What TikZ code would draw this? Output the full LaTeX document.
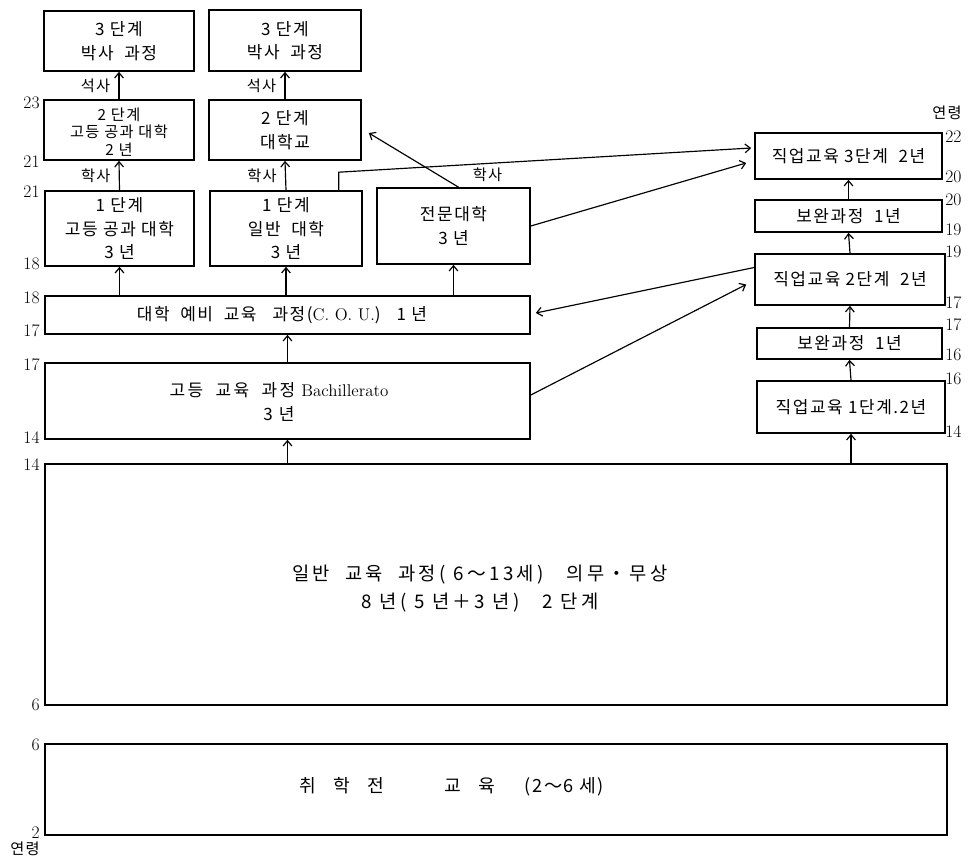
\documentclass[tikz,border=0pt]{standalone}
\usepackage{fontspec}
\newfontfamily\kr[LetterSpace=9]{Noto Sans CJK KR}
\usetikzlibrary{arrows.meta, positioning, calc, fit}

\tikzset{
  boxtext/.style={inner sep=0pt, align=center, font=\kr\fontsize{14.5}{20}\selectfont},
  box/.style={draw, line width=1.4pt, inner sep=0pt, label={[boxtext]center:{#1}}},
  box/.default={},
  up/.style={line width=1pt, -{Straight Barb[length=4.5pt,width=7.5pt]}},
  age/.style={font=\fontsize{15}{17}\selectfont, inner sep=1pt},
  deg/.style={font=\kr\fontsize{13}{15}\selectfont, inner sep=2pt},
}

\begin{document}
\begin{tikzpicture}[x=0.03cm, y=-0.03cm]
\useasboundingbox (0,0) rectangle (969,859);

% university track
\node[box={3 단계\\박사 \ 과정}, fit={(44,11) (194,71)}] (phd1) {};
\node[box={3 단계\\박사 \ 과정}, fit={(209,10) (361,71)}] (phd2) {};
\node[box, fit={(44,100) (194,160)}] (eng2) {};
\node[boxtext, font=\kr\fontsize{13}{15}\selectfont] (eng2text) at (119,132) {2 단계\\고등 공과 대학\\2 년};
\node[box={2 단계\\대학교}, fit={(209,100) (361,160)}] (uni2) {};
\node[box={1 단계\\고등 공과 대학\\3 년}, fit={(45,191) (194,266)}] (eng1) {};
\node[box={1 단계\\일반 \ 대학\\3 년}, fit={(210,191) (362,266)}] (uni1) {};
\node[box={전문대학\\3 년}, fit={(377,188) (530,264)}] (col) {};
\node[box, fit={(45,296) (530,334)}] (cou) {};
\node[boxtext] (coutext) at (282,315) {대학 \ 예비 \ 교육 \ \ 과정({\rmfamily C. O. U.}) \ \ 1 년};
\node[box, fit={(45,363) (530,439)}] (bach) {};
\node[boxtext, font=\kr\fontsize{14.5}{20}\selectfont\addfontfeature{LetterSpace=14}] (bachtext) at (279,402)
  {고등 \ 교육 \ 과정 {\rmfamily Bachillerato}\\3 년};

% basic education
\node[box, fit={(45,464) (947,705)}] (gen) {};
\node[boxtext, font=\kr\fontsize{16}{24}\selectfont\addfontfeature{LetterSpace=18}] (gentext) at (480,589)
  {일반 \ 교육 \ 과정( 6～13세) \ \ 의무・무상\\8 년( 5 년＋3 년) \ \ 2 단계};
\node[box, fit={(45,744) (947,835)}] (pre) {};
\node[boxtext, font=\kr\fontsize{15.5}{18}\selectfont] (pretext) at (452,787)
  {취 \ \ 학 \ \ 전 \qquad\quad 교 \ \ 육 \quad\ (2～6 세)};

% vocational track
\node[box={직업교육 3단계 \ 2년}, fit={(755,133) (942,179)}] (voc3) {};
\node[box={보완과정 \ 1년}, fit={(755,200) (942,232)}] (sup2) {};
\node[box={직업교육 2단계 \ 2년}, fit={(755,254) (945,305)}] (voc2) {};
\node[box={보완과정 \ 1년}, fit={(757,328) (942,359)}] (sup1) {};
\node[box={직업교육 1단계.2년}, fit={(757,381) (945,433)}] (voc1) {};

% ages
\foreach \y/\a in {103/23, 162/21, 192/21, 264/18, 298/18, 331/17, 365/17,
                   438/14, 465/14, 705/6, 745/6, 833/2}
  \node[age, left] (l\y) at (41,\y) {\a};
\foreach \y/\a in {137/22, 177/20, 200/20, 230/19, 252/19, 303/17, 325/17,
                   355/16, 379/16, 432/14}
  \node[age, right] (r\y) at (944,\y) {\a};
\node[deg] (agetop) at (947,113) {연령};
\node[deg] (agebot) at (25,849) {연령};

% vertical arrows
\draw[up] (eng2.north) -- node[deg, left=5pt] (ms1) {석사} (phd1.south);
\draw[up] (uni2.north) -- node[deg, left=5pt] (ms2) {석사} (phd2.south);
\draw[up] (eng1.north) -- node[deg, left=5pt] (ba1) {학사} (eng2.south);
\draw[up] (uni1.north) -- node[deg, left=5pt] (ba2) {학사} (uni2.south);
\draw[up] (cou.north -| eng1.south) -- (eng1.south);
\draw[up] (cou.north -| uni1.south) -- (uni1.south);
\draw[up] (cou.north -| col.south) -- (col.south);
\draw[up] (bach.north) -- (cou.south);
\draw[up] (gen.north -| bach.south) -- (bach.south);
\draw[up] (gen.north -| voc1.south) -- (voc1.south);
\draw[up] (voc1.north) -- (sup1.south);
\draw[up] (sup1.north) -- (voc2.south);
\draw[up] (voc2.north) -- (sup2.south);
\draw[up] (sup2.north) -- (voc3.south);

% cross links
\draw[up] ($(col.north)+(5,0)$) -- ($(uni2.east)+(7,3)$);
\node[deg] (ba3) at ($(col.north)+(34,-12)$) {학사};
\draw[up] ($(uni1.north east)+(-24,0)$) -- ++(0,-18) -- ($(voc3.west)+(-3,-8)$);
\draw[up] (col.east) -- ($(voc3.west)+(-8,7)$);
\draw[up] ($(voc2.west)+(0,-12)$) -- ($(cou.east)+(5,-2)$);
\draw[up] ($(bach.east)+(0,-6)$) -- ($(voc2.west)+(-8,5)$);
\end{tikzpicture}
\end{document}
